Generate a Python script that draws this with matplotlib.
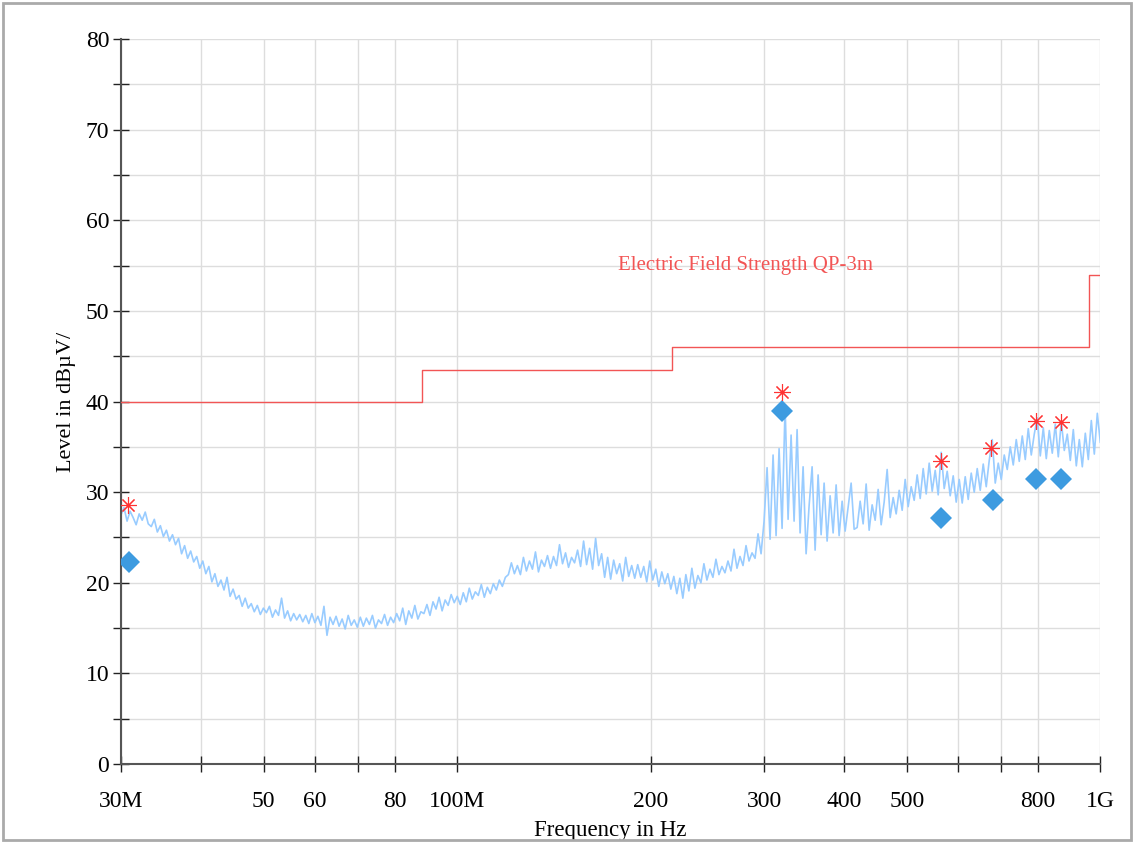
import numpy as np
import matplotlib
matplotlib.use("Agg")
import matplotlib.pyplot as plt
from matplotlib.patches import Rectangle

level_30_100 = [
    27.5, 28.3, 26.8, 27.9, 27.2, 26.4, 27.6, 26.9, 27.8, 26.5,
    26.2, 27.0, 25.6, 26.3, 25.1, 25.8, 24.6, 25.3, 24.2, 24.9,
    23.2, 24.1, 22.7, 23.5, 22.3, 22.9, 21.6, 22.4, 21.0, 21.8,
    20.1, 21.0, 19.6, 20.3, 19.2, 20.6, 18.5, 19.3, 18.2, 18.6,
    17.4, 18.3, 17.2, 17.7, 16.8, 17.5, 16.5, 17.2, 16.7, 17.4,
    16.2, 17.0, 16.4, 18.3, 16.1, 16.9, 15.8, 16.6, 15.9, 16.5,
    15.7, 16.4, 15.5, 16.6, 15.6, 16.3, 15.3, 17.4, 14.2, 16.2,
    15.4, 16.3, 15.2, 16.0, 14.9, 16.4, 15.3, 15.9, 15.1, 16.2,
    15.2, 16.1, 15.4, 16.4, 15.0, 15.9, 15.5, 16.5, 15.3, 16.2,
    15.6, 16.6, 15.8, 17.2, 15.4, 16.9, 16.1, 17.5, 16.0, 16.8,
    16.6, 17.6, 16.4, 17.9, 17.1, 18.4, 16.9, 18.1, 17.5, 18.7, 17.8, 18.5,
]
level_100_300 = [
    17.6, 18.9, 17.9, 19.4, 18.2, 19.0, 18.6, 19.8, 18.4, 19.5,
    18.8, 19.9, 19.2, 20.3, 19.6, 20.6, 20.9, 22.2, 21.0, 21.9,
    20.9, 22.8, 21.3, 22.4, 21.5, 23.4, 21.2, 22.5, 21.8, 23.0,
    21.6, 22.9, 21.9, 24.2, 22.1, 23.3, 21.7, 22.8, 22.2, 23.6,
    21.8, 24.6, 22.0, 23.8, 21.5, 24.9, 21.9, 23.2, 20.6, 22.8,
    20.4, 22.5, 21.0, 22.1, 20.2, 22.8, 20.7, 21.9, 20.5, 22.0,
    20.6, 21.8, 20.1, 22.4, 20.3, 21.5, 19.6, 21.2, 19.9, 21.0,
    19.3, 20.7, 18.8, 20.5, 18.3, 20.9, 19.1, 21.6, 19.4, 20.8,
    20.0, 22.1, 20.3, 21.5, 20.6, 22.6, 20.9, 21.8, 21.1, 22.4,
    21.3, 23.7, 21.6, 22.9, 21.9, 24.1, 22.4, 23.3, 22.7, 25.4, 23.2, 26.8,
]
level_300_1000 = [
    32.7, 24.8, 34.1, 25.2, 34.8, 26.0, 39.6, 27.0, 36.3, 26.8,
    36.9, 25.5, 32.8, 23.2, 28.5, 32.8, 23.6, 31.9, 25.3, 31.0,
    24.6, 29.6, 25.5, 30.8, 25.2, 29.0, 25.7, 28.4, 31.0, 25.9,
    26.1, 29.0, 26.5, 30.9, 25.8, 28.6, 26.9, 30.3, 26.4, 28.9,
    32.5, 27.2, 29.4, 27.6, 30.2, 28.0, 31.4, 28.4, 30.6, 29.1,
    31.9, 29.3, 32.6, 29.8, 33.2, 30.1, 32.4, 29.7, 34.4, 30.4,
    32.3, 29.6, 31.8, 28.9, 31.4, 28.8, 31.7, 29.2, 32.1, 30.0,
    32.6, 30.2, 33.1, 30.6, 33.5, 35.8, 31.0, 33.2, 31.4, 34.1,
    32.5, 35.0, 33.0, 35.8, 33.4, 36.2, 33.6, 37.0, 34.1, 36.4,
    38.2, 34.0, 37.1, 33.7, 36.8, 34.3, 37.5, 33.9, 37.8, 34.6,
    36.4, 33.5, 36.9, 32.9, 35.8, 32.8, 36.5, 33.6, 37.9, 34.2, 38.7, 35.5,
]

# limit line: Electric Field Strength QP-3m
limit_freq = [30e6, 88e6, 88e6, 216e6, 216e6, 960e6, 960e6, 1000e6]
limit_level = [40, 40, 43.5, 43.5, 46, 46, 54, 54]

# peaks (stars) and quasi-peak finals (diamonds)
peak_freq = [30.8e6, 320e6, 566e6, 677e6, 795e6, 869e6]
peak_level = [28.6, 41.1, 33.4, 34.9, 37.9, 37.7]
qp_freq = [30.9e6, 320e6, 566e6, 680e6, 795e6, 869e6]
qp_level = [22.3, 39.0, 27.2, 29.1, 31.4, 31.4]

xticks = [30e6, 40e6, 50e6, 60e6, 70e6, 80e6, 100e6, 200e6, 300e6,
          400e6, 500e6, 600e6, 700e6, 800e6, 1e9]
xlabels = ["30M", "", "50", "60", "", "80", "100M", "200", "300",
           "400", "500", "", "", "800", "1G"]

plt.rcParams['font.family'] = ['Liberation Serif', 'DejaVu Serif']

freq = np.concatenate([
    np.geomspace(30e6, 100e6, len(level_30_100)),
    np.geomspace(100e6, 300e6, len(level_100_300) + 1)[1:],
    np.geomspace(300e6, 1e9, len(level_300_1000) + 1)[1:],
])
level = np.concatenate([level_30_100, level_100_300, level_300_1000])

fig = plt.figure(figsize=(11.34, 8.43), dpi=100)
ax = fig.add_axes([0.1067, 0.0937, 0.8636, 0.86])

ax.plot(freq, level, color='#99ccff', lw=1.2, zorder=2)
ax.plot(limit_freq, limit_level, color='#f25555', lw=1.0, zorder=3)
ax.plot(qp_freq, qp_level, 'D', color='#3d9be0', ms=11, mew=0, zorder=4)
ax.plot(peak_freq, peak_level, marker=(8, 2, 0), ls='none', color='#ff3333',
        ms=12, mew=0.8, zorder=5)

ax.text(178e6, 55.0, "Electric Field Strength QP-3m",
        color='#f25555', fontsize=15, va='center', ha='left')

ax.set_xscale('log')
ax.set_xlim(30e6, 1e9)
ax.set_ylim(0, 80)
ax.set_xticks(xticks)
ax.set_xticklabels(xlabels)
ax.xaxis.set_minor_locator(matplotlib.ticker.NullLocator())
ax.set_yticks(range(0, 81, 10))
ax.set_yticks(range(5, 80, 10), minor=True)

ax.grid(True, which='both', color='#dddddd', lw=1.0, zorder=0)
ax.set_axisbelow(True)
for s in ['top', 'right']:
    ax.spines[s].set_visible(False)
for s in ['left', 'bottom']:
    ax.spines[s].set_color('#555555')
    ax.spines[s].set_linewidth(1.5)

ax.tick_params(axis='both', which='both', direction='inout', length=11,
               width=1.0, color='#222222', labelsize=17)
ax.tick_params(axis='x', pad=14)
ax.tick_params(axis='y', pad=3)

ax.set_xlabel("Frequency in Hz", fontsize=16.5, labelpad=6)
ax.set_ylabel("Level in dBµV/", fontsize=16, labelpad=7)

fig.patches.append(Rectangle((0.003, 0.003), 0.994, 0.994, transform=fig.transFigure,
                             fill=False, edgecolor='#aaaaaa', lw=2))

fig.savefig('out.png', dpi=100)
